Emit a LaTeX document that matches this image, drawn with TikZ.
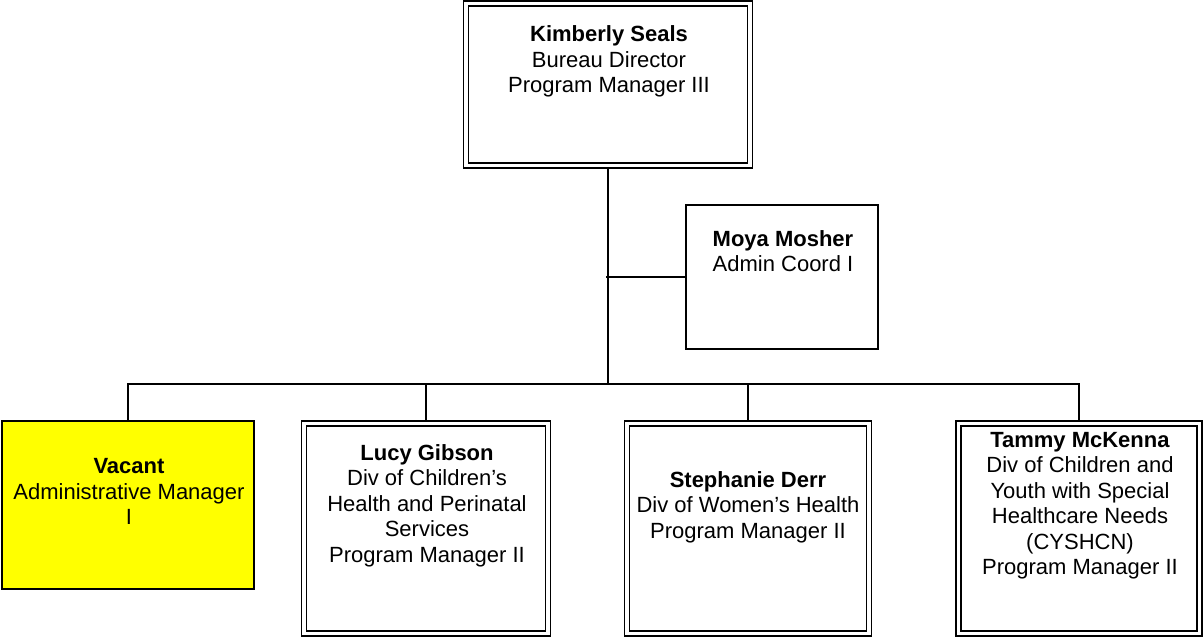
\documentclass[tikz,border=0pt]{standalone}
\usepackage{fontspec}
\setmainfont{Liberation Sans}
\usetikzlibrary{backgrounds}
\definecolor{vacyellow}{HTML}{FFFF00}
\tikzset{
  x={(1pt,0pt)}, y={(0pt,-1pt)},
  dbox/.style={draw=black, fill=white, rectangle, inner sep=0pt, outer sep=0pt,
    line width=1.6pt, double=white, double distance=3.4pt},
  sbox/.style={draw=black, fill=white, rectangle, inner sep=0pt, outer sep=0pt, line width=1.6pt},
  vbox/.style={draw=black, fill=vacyellow, rectangle, inner sep=0pt, outer sep=0pt, line width=2pt},
  txt/.style={anchor=north, inner sep=0pt, align=center,
    font=\fontsize{22}{25.5}\selectfont},
  conn/.style={draw=black, line width=2pt},
}
\newcommand{\fl}{\rule{0pt}{16.5pt}}
\begin{document}
\begin{tikzpicture}
\useasboundingbox (0,0) rectangle (1203,637);
% boxes
\node[dbox, minimum width=284pt, minimum height=162pt] (kim) at (608,84.5) {};
\node[sbox, minimum width=192pt, minimum height=144pt] (moy) at (782,277) {};
\node[vbox, minimum width=252pt, minimum height=168pt] (vac) at (128,505) {};
\node[dbox, minimum width=244pt, minimum height=210pt] (luc) at (426,528.5) {};
\node[dbox, minimum width=242pt, minimum height=210pt] (ste) at (748,528.5) {};
\node[dbox, minimum width=241pt, minimum height=210pt] (tam) at (1079,528.5) {};
% texts
\node[txt] (kimt) at (609,25) {\fl\textbf{Kimberly Seals}\\Bureau Director\\Program Manager III};
\node[txt] (moyt) at (783,229.5) {\fl\textbf{Moya Mosher}\\Admin Coord I};
\node[txt] (vact) at (129,457) {\fl\textbf{Vacant}\\Administrative Manager\\I};
\node[txt] (luct) at (427,443.5) {\fl\textbf{Lucy Gibson}\\Div of Children’s\\Health and Perinatal\\Services\\Program Manager II};
\node[txt] (stet) at (748,470.5) {\fl\textbf{Stephanie Derr}\\Div of Women’s Health\\Program Manager II};
\node[txt] (tamt) at (1080,430.5) {\fl\textbf{Tammy McKenna}\\Div of Children and\\Youth with Special\\Healthcare Needs\\(CYSHCN)\\Program Manager II};
% connectors
\coordinate (bus) at (608,384);
\coordinate (mj) at (606,277);
\begin{pgfonlayer}{background}
\draw[conn] (kim.south) -- (bus);
\draw[conn] (mj) -- (moy.west);
\draw[conn] (vac.north) |- (tam.north |- bus) -- (tam.north);
\draw[conn] (luc.north) -- (luc.north |- bus);
\draw[conn] (ste.north) -- (ste.north |- bus);
\end{pgfonlayer}
\end{tikzpicture}
\end{document}
